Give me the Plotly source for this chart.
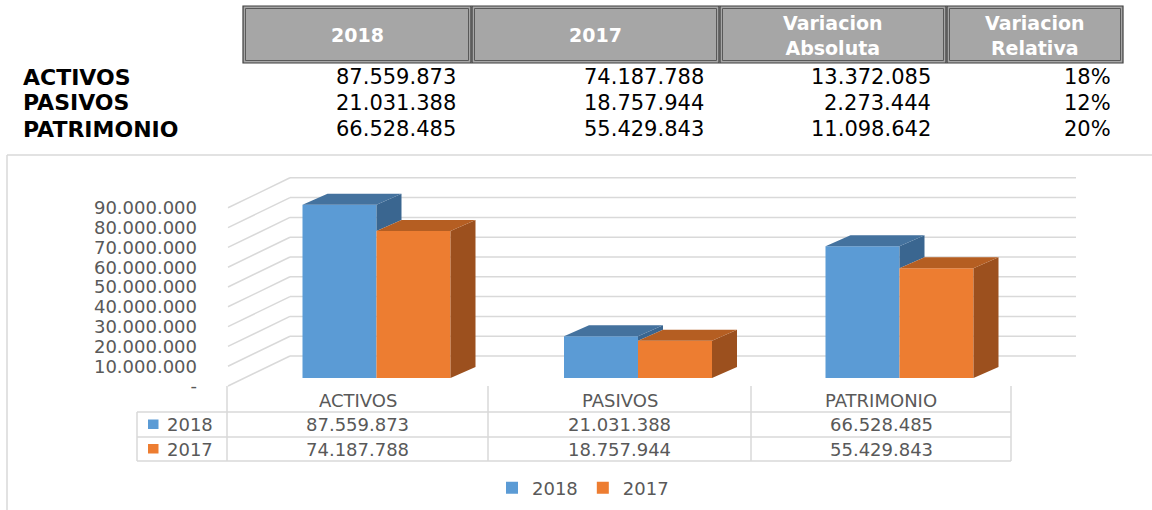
import plotly.graph_objects as go

# ---------------- data ----------------
categories = ["ACTIVOS", "PASIVOS", "PATRIMONIO"]
series_names = ["2018", "2017"]
values_2018 = [87559873, 21031388, 66528485]
values_2017 = [74187788, 18757944, 55429843]
variacion_absoluta = [13372085, 2273444, 11098642]
variacion_relativa = ["18%", "12%", "20%"]
table_headers = ["2018", "2017", "Variacion<br>Absoluta", "Variacion<br>Relativa"]
y_tick_values = [0, 10000000, 20000000, 30000000, 40000000,
                 50000000, 60000000, 70000000, 80000000, 90000000]

# ---------------- style / geometry ----------------
W, H = 1152, 510
FONT = "DejaVu Sans"
TXT = "#595959"
GRID = "#d9d9d9"
BLUE, BLUE_TOP, BLUE_SIDE = "#5b9bd5", "#44729e", "#3a6690"
ORANGE, ORANGE_TOP, ORANGE_SIDE = "#ed7d31", "#b55e22", "#9c501e"


def fx(p):
    return p / W


def fy(p):
    return 1 - p / H


def fmt(v):
    return "-" if v == 0 else f"{v:,}".replace(",", ".")


CAT_W = 261.5                 # px per category
CAT0_CENTER = 376.5           # px centre of first bar group
X_DOM0 = CAT0_CENTER - 0.5 * CAT_W
X_DOM1 = X_DOM0 + 3 * CAT_W
BAR_BASE = 378.0              # px of value 0 on the bar plane
PX_PER_VAL = 19.8 / 1e7
Y_TOP = 160.0
YMAX = (BAR_BASE - Y_TOP) / PX_PER_VAL
BW = 74 / CAT_W               # bar width (axis units)
DX = 25 / CAT_W               # bar depth, x
DY = 11 / PX_PER_VAL          # bar depth, y

FRONT_ZERO = 386.0            # px of value 0 on the front of the walls
WALL_X0, WALL_X1, WALL_DY, BACK_RIGHT = 228, 290, 30, 1076

fig = go.Figure()

# ---------------- bars (front faces) ----------------
fig.add_trace(go.Bar(x=[0, 1, 2], y=values_2018, width=BW, offset=-BW, name=series_names[0],
                     marker=dict(color=BLUE, line=dict(width=0)), hoverinfo="skip"))
fig.add_trace(go.Bar(x=[0, 1, 2], y=values_2017, width=BW, offset=0, name=series_names[1],
                     marker=dict(color=ORANGE, line=dict(width=0)), hoverinfo="skip"))


def poly_trace(xs, ys, color):
    return go.Scatter(x=xs, y=ys, mode="lines", fill="toself", fillcolor=color,
                      line=dict(width=0, color=color), showlegend=False, hoverinfo="skip")


bs_x, bs_y, bt_x, bt_y, os_x, os_y, ot_x, ot_y = [], [], [], [], [], [], [], []
for i, (vb, vo) in enumerate(zip(values_2018, values_2017)):
    # blue side (visible part above orange)
    xr = i
    low = min(vo, vb)
    bs_x += [xr, xr + DX, xr + DX, xr, xr, None]
    bs_y += [low, low + DY, vb + DY, vb, low, None]
    xl = i - BW
    bt_x += [xl, xr, xr + DX, xl + DX, xl, None]
    bt_y += [vb, vb, vb + DY, vb + DY, vb, None]
    # orange
    xl, xr = i, i + BW
    os_x += [xr, xr + DX, xr + DX, xr, xr, None]
    os_y += [0, DY, vo + DY, vo, 0, None]
    ot_x += [xl, xr, xr + DX, xl + DX, xl, None]
    ot_y += [vo, vo, vo + DY, vo + DY, vo, None]

fig.add_trace(poly_trace(bs_x, bs_y, BLUE_SIDE))
fig.add_trace(poly_trace(bt_x, bt_y, BLUE_TOP))
fig.add_trace(poly_trace(os_x, os_y, ORANGE_SIDE))
fig.add_trace(poly_trace(ot_x, ot_y, ORANGE_TOP))

shapes = []
annotations = []

# ---------------- chart frame (top and left edges visible) ----------------
shapes.append(dict(type="line", xref="paper", yref="paper", x0=fx(7), x1=1, y0=fy(155), y1=fy(155),
                   line=dict(color=GRID, width=1.5), layer="below"))
shapes.append(dict(type="line", xref="paper", yref="paper", x0=fx(7), x1=fx(7), y0=fy(155), y1=0,
                   line=dict(color=GRID, width=1.5), layer="below"))

# ---------------- walls / gridlines ----------------
for v in y_tick_values:
    yf = FRONT_ZERO - v * PX_PER_VAL
    yb = yf - WALL_DY
    shapes.append(dict(type="line", xref="paper", yref="paper", x0=fx(WALL_X0), y0=fy(yf),
                       x1=fx(WALL_X1), y1=fy(yb), line=dict(color=GRID, width=1.5), layer="below"))
    shapes.append(dict(type="line", xref="paper", yref="paper", x0=fx(WALL_X1), y0=fy(yb),
                       x1=fx(BACK_RIGHT), y1=fy(yb), line=dict(color=GRID, width=1.5), layer="below"))

# ---------------- data table under chart ----------------
TB_L, TB_LAB, TB_R = 137, 227, 1011
col_edges = [227, 488, 751, 1011]
ROW_TOP, ROW1, ROW2, ROW_BOT = 386, 412, 437, 461
for yy in (ROW1, ROW2, ROW_BOT):
    shapes.append(dict(type="line", xref="paper", yref="paper", x0=fx(TB_L), x1=fx(TB_R),
                       y0=fy(yy), y1=fy(yy), line=dict(color=GRID, width=1.5), layer="below"))
shapes.append(dict(type="line", xref="paper", yref="paper", x0=fx(TB_L), x1=fx(TB_L),
                   y0=fy(ROW1), y1=fy(ROW_BOT), line=dict(color=GRID, width=1.5), layer="below"))
for xx in col_edges:
    shapes.append(dict(type="line", xref="paper", yref="paper", x0=fx(xx), x1=fx(xx),
                       y0=fy(ROW_TOP), y1=fy(ROW_BOT), line=dict(color=GRID, width=1.5), layer="below"))

row_centers = [(ROW1 + ROW2) / 2, (ROW2 + ROW_BOT) / 2]
for j, cat in enumerate(categories):
    cx = (col_edges[j] + col_edges[j + 1]) / 2
    annotations.append(dict(x=fx(cx), y=fy(400), xref="paper", yref="paper", text=cat,
                            showarrow=False, font=dict(family=FONT, size=18, color=TXT),
                            xanchor="center", yanchor="middle"))
    for r, vals in enumerate((values_2018, values_2017)):
        annotations.append(dict(x=fx(cx), y=fy(row_centers[r]), xref="paper", yref="paper",
                                text=fmt(vals[j]), showarrow=False,
                                font=dict(family=FONT, size=18, color=TXT),
                                xanchor="center", yanchor="middle"))
for r, (name, col) in enumerate(zip(series_names, (BLUE, ORANGE))):
    yc = row_centers[r]
    shapes.append(dict(type="rect", xref="paper", yref="paper", x0=fx(148), x1=fx(158.5),
                       y0=fy(yc - 5), y1=fy(yc + 4.5), fillcolor=col, line=dict(width=0)))
    annotations.append(dict(x=fx(165), y=fy(yc), xref="paper", yref="paper", text=name,
                            showarrow=False, font=dict(family=FONT, size=18, color=TXT),
                            xanchor="left", yanchor="middle"))

# ---------------- top summary table ----------------
hdr_cells = [(243, 471), (472, 719), (720, 946), (947, 1123)]
HDR_T, HDR_B = 6, 63
for (x0, x1), txt in zip(hdr_cells, table_headers):
    shapes.append(dict(type="rect", xref="paper", yref="paper", x0=fx(x0), x1=fx(x1),
                       y0=fy(HDR_T), y1=fy(HDR_B), fillcolor="#a6a6a6",
                       line=dict(color="#3f3f3f", width=1.2)))
    shapes.append(dict(type="rect", xref="paper", yref="paper", x0=fx(x0 + 2.5), x1=fx(x1 - 2.5),
                       y0=fy(HDR_T + 2.5), y1=fy(HDR_B - 2.5), fillcolor="rgba(0,0,0,0)",
                       line=dict(color="#595959", width=1)))
    annotations.append(dict(x=fx((x0 + x1) / 2), y=fy((HDR_T + HDR_B) / 2 + 1), xref="paper", yref="paper",
                            text="<b>" + txt + "</b>", showarrow=False,
                            font=dict(family=FONT, size=19, color="#ffffff"),
                            xanchor="center", yanchor="middle"))

row_y = [77, 103, 129]
right_edges = [458, 706, 933, 1113]
for k, cat in enumerate(categories):
    annotations.append(dict(x=fx(21), y=fy(row_y[k]), xref="paper", yref="paper",
                            text="<b>" + cat + "</b>", showarrow=False,
                            font=dict(family=FONT, size=22, color="#000000"),
                            xanchor="left", yanchor="middle"))
    cells = [fmt(values_2018[k]), fmt(values_2017[k]), fmt(variacion_absoluta[k]), variacion_relativa[k]]
    for c, txt in enumerate(cells):
        annotations.append(dict(x=fx(right_edges[c]), y=fy(row_y[k]), xref="paper", yref="paper",
                                text=txt, showarrow=False,
                                font=dict(family=FONT, size=21, color="#000000"),
                                xanchor="right", yanchor="middle"))

# ---------------- layout ----------------
fig.update_layout(
    width=W, height=H, autosize=False,
    margin=dict(l=0, r=0, t=0, b=0, pad=0, autoexpand=False),
    paper_bgcolor="#ffffff", plot_bgcolor="rgba(0,0,0,0)",
    barmode="overlay",
    separators=",.",
    xaxis=dict(domain=[fx(X_DOM0), fx(X_DOM1)], range=[-0.5, 2.5], visible=False, fixedrange=True),
    yaxis=dict(domain=[fy(BAR_BASE), fy(Y_TOP)], range=[0, YMAX], anchor="free", position=fx(197),
               side="left", showgrid=False, zeroline=False, showline=False, ticks="",
               tickvals=y_tick_values, ticktext=[fmt(v) for v in y_tick_values],
               ticklabelshift=int(round(FRONT_ZERO - BAR_BASE)),
               tickfont=dict(family=FONT, size=18, color=TXT), fixedrange=True),
    showlegend=True,
    legend=dict(orientation="h", x=fx(492), y=fy(488), xanchor="left", yanchor="middle",
                font=dict(family=FONT, size=18, color=TXT), bgcolor="rgba(0,0,0,0)",
                itemclick=False, itemdoubleclick=False),
    shapes=shapes,
    annotations=annotations,
)

fig.write_html("out.html")
